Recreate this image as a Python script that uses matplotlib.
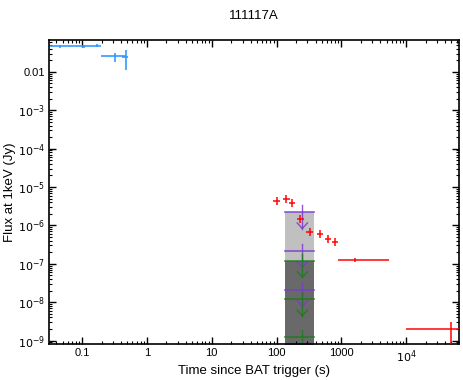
import numpy as np
import matplotlib
matplotlib.use('Agg')
import matplotlib.pyplot as plt
from matplotlib.ticker import FixedLocator, FuncFormatter, LogLocator, NullFormatter

plt.rcParams['font.family'] = ['Liberation Sans', 'DejaVu Sans']

# BAT points (blue)
bat_t = [0.046, 0.107, 0.170, 0.322, 0.476]
bat_tlo = [0.032, 0.084, 0.137, 0.196, 0.41]
bat_thi = [0.084, 0.137, 0.196, 0.476, 0.51]
bat_f = [0.046, 0.046, 0.0486, 0.0253, 0.0238]
bat_flo = [0.043, 0.043, 0.045, 0.0183, 0.011]
bat_fhi = [0.050, 0.050, 0.053, 0.0313, 0.0374]

# XRT points (red)
xrt_t = [100, 141, 175, 234, 325, 464, 624, 809, 1640, 48800]
xrt_tlo = [88, 124, 156, 208, 290, 416, 560, 725, 889, 10000]
xrt_thi = [114, 160, 196, 263, 364, 518, 695, 903, 5420, 70000]
xrt_f = [4.33e-6, 4.97e-6, 3.78e-6, 1.45e-6, 6.9e-7, 5.9e-7, 4.4e-7, 3.66e-7, 1.27e-7, 2.05e-9]
xrt_flo = [3.4e-6, 3.9e-6, 3.0e-6, 1.14e-6, 5.4e-7, 4.6e-7, 3.45e-7, 2.9e-7, 1.1e-7, 5e-10]
xrt_fhi = [5.5e-6, 6.3e-6, 4.8e-6, 1.84e-6, 8.8e-7, 7.5e-7, 5.6e-7, 4.6e-7, 1.45e-7, 3.1e-9]

# upper limits
lim_t = 250
lim_tlo, lim_thi = 133, 384
purple_lims = [2.24e-6, 2.2e-7, 2.1e-8]
green_lims = [1.2e-7, 1.2e-8, 1.26e-9]

fig = plt.figure(figsize=(4.63, 3.8), dpi=100)
ax = fig.add_axes([0.106, 0.095, 0.885, 0.8])
ax.set_xscale('log')
ax.set_yscale('log')
ax.set_xlim(0.031, 65000)
ax.set_ylim(8.2e-10, 0.068)

# shaded limit boxes
ax.fill_between([lim_tlo, lim_thi], green_lims[0], purple_lims[0], color='#c0c0c0', zorder=1, lw=0)
ax.fill_between([lim_tlo, lim_thi], 1e-12, green_lims[0], color='#696969', zorder=1, lw=0)

def draw_limits(levels, color, alpha):
    for y in levels:
        tip = y / 2.7
        ax.plot([lim_tlo, lim_thi], [y, y], color=color, lw=1.2, alpha=alpha, zorder=2)
        ax.plot([lim_t, lim_t], [y * 1.5, tip], color=color, lw=1.0, alpha=alpha, zorder=2)
        ax.plot([lim_t / 1.2, lim_t, lim_t * 1.2], [tip * 1.4, tip, tip * 1.4],
                color=color, lw=1.0, alpha=alpha, zorder=2)

draw_limits(purple_lims, '#7a3ad0', 0.85)
draw_limits(green_lims, '#1f7a1f', 0.85)

bat_t = np.array(bat_t)
bat_f = np.array(bat_f)
ax.errorbar(bat_t, bat_f,
            xerr=[bat_t - np.array(bat_tlo), np.array(bat_thi) - bat_t],
            yerr=[bat_f - np.array(bat_flo), np.array(bat_fhi) - bat_f],
            fmt='none', ecolor='#3399ff', elinewidth=1.2, capsize=0, zorder=3)

xrt_t = np.array(xrt_t)
xrt_f = np.array(xrt_f)
ax.errorbar(xrt_t, xrt_f,
            xerr=[xrt_t - np.array(xrt_tlo), np.array(xrt_thi) - xrt_t],
            yerr=[xrt_f - np.array(xrt_flo), np.array(xrt_fhi) - xrt_f],
            fmt='none', ecolor='#ff0000', elinewidth=1.2, capsize=0, alpha=0.9, zorder=3)

def xfmt(v, pos):
    if v >= 1e4:
        return r'$10^{%d}$' % int(round(np.log10(v)))
    if v < 1:
        return '%g' % v
    return '%d' % v

def yfmt(v, pos):
    e = int(round(np.log10(v)))
    if e == -2:
        return '0.01'
    return r'$10^{%d}$' % e

ax.xaxis.set_major_locator(FixedLocator([0.1, 1, 10, 100, 1000, 1e4]))
ax.xaxis.set_major_formatter(FuncFormatter(xfmt))
ax.xaxis.set_minor_locator(LogLocator(base=10, subs=np.arange(2, 10), numticks=20))
ax.xaxis.set_minor_formatter(NullFormatter())
ax.yaxis.set_major_locator(FixedLocator([1e-9, 1e-8, 1e-7, 1e-6, 1e-5, 1e-4, 1e-3, 1e-2]))
ax.yaxis.set_major_formatter(FuncFormatter(yfmt))
ax.yaxis.set_minor_locator(LogLocator(base=10, subs=np.arange(2, 10), numticks=20))
ax.yaxis.set_minor_formatter(NullFormatter())

ax.tick_params(which='both', direction='in', top=True, right=True, labelsize=8, pad=3)
ax.tick_params(which='major', length=5, width=1)
ax.tick_params(which='minor', length=2.5, width=0.8)
for s in ax.spines.values():
    s.set_linewidth(1.2)

ax.set_xlabel('Time since BAT trigger (s)', fontsize=9.5, labelpad=0)
ax.set_ylabel('Flux at 1keV (Jy)', fontsize=9.5, labelpad=1)
ax.set_title('111117A', fontsize=9.5, pad=15)

fig.savefig('out.png', dpi=100)
